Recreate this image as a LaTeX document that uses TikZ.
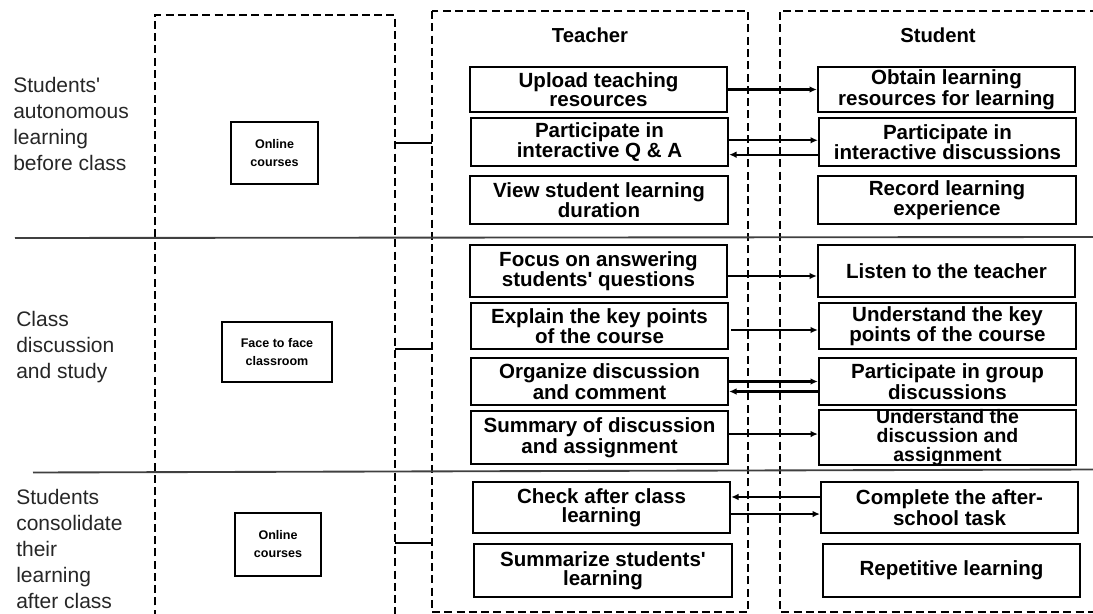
\documentclass[tikz,border=0pt]{standalone}
\usepackage{fontspec}
\setmainfont{Liberation Sans}
\usetikzlibrary{arrows.meta}
\begin{document}
\begin{tikzpicture}[x=0.75pt,y=-0.75pt,
	frame/.style={line width=2.2pt,dash pattern=on 6pt off 3.2pt},
	sep/.style={draw=black!75,line width=1.4pt},
	brk/.style={line width=2.2pt},
	stage/.style={anchor=north west,inner sep=0pt,align=left,text=black!85,font=\fontsize{15.75}{19.5}\selectfont},
	head/.style={inner sep=0pt,font=\bfseries\fontsize{15.2}{18}\selectfont},
	act/.style={draw,line width=1.5pt,minimum width=193pt,inner sep=0pt,align=center,font=\bfseries\fontsize{15.4}{14.25}\selectfont},
	mode/.style={draw,line width=1.5pt,inner sep=0pt,align=center,font=\bfseries\fontsize{9.4}{13.5}\selectfont},
	arr/.style={line width=1.6pt,-{Latex[length=5.5pt,width=5pt]}}]
			\useasboundingbox (0,0) rectangle (1093,614);
			\clip (0,0) rectangle (1093,614);
			\draw[frame] (155,630) -- (155,15) -- (395,15) -- (395,630);
			\draw[frame] (432,11) rectangle (748,612);
			\draw[frame] (1110,11) -- (780,11) -- (780,612) -- (1110,612);
			\draw[sep] (15,238) -- (1093,237);
			\draw[sep] (33,472.5) -- (1093,469.5);
			\draw[brk] (395,143) -- (432,143);
			\draw[brk] (395,349) -- (432,349);
			\draw[brk] (395,543) -- (432,543);
			\node[stage] (before) at (13,77) {Students\textquotesingle\\autonomous\\learning\\before class};
			\node[stage] (class) at (16,311.5) {Class\\discussion\\and study};
			\node[stage] (after) at (16,489) {Students\\consolidate\\their\\learning\\after class};
			\node[mode,minimum width=65.25pt,minimum height=46.5pt] (online1) at (274.5,153) {Online\\courses};
			\node[mode,minimum width=82.5pt,minimum height=45pt] (face) at (277,352) {Face to face\\classroom};
			\node[mode,minimum width=64.5pt,minimum height=47.25pt] (online2) at (278,544.5) {Online\\courses};
			\node[head] (teacher) at (590,35) {Teacher};
			\node[head] (student) at (938,35) {Student};
			\node[act,minimum height=33.75pt] (t1) at (598.5,89.5) {Upload teaching\\resources};
			\node[act,minimum height=36pt] (t2) at (599.5,142) {Participate in\\interactive Q \& A};
			\node[act,minimum height=36pt] (t3) at (599,200) {View student learning\\duration};
			\node[act,minimum height=39pt] (t4) at (598.5,271) {Focus on answering\\students\textquotesingle{} questions};
			\node[act,minimum height=34.5pt] (t5) at (599.5,326) {Explain the key points\\of the course};
			\node[act,minimum height=35.25pt] (t6) at (599.5,381.5) {Organize discussion\\and comment};
			\node[act,minimum height=39.75pt] (t7) at (599.5,437.5) {Summary of discussion\\and assignment};
			\node[act,minimum height=38.25pt] (t8) at (601.5,507.5) {Check after class\\learning};
			\node[act,minimum height=39.75pt] (t9) at (603,570.5) {Summarize students\textquotesingle\\learning};
			\node[act,minimum height=33.75pt] (s1) at (946.5,89.5) {Obtain learning\\resources for learning};
			\node[act,minimum height=36pt] (s2) at (947.5,142) {Participate in\\interactive discussions};
			\node[act,minimum height=36pt] (s3) at (947,200) {Record learning\\experience};
			\node[act,minimum height=39pt] (s4) at (946.5,271) {Listen to the teacher};
			\node[act,minimum height=34.5pt] (s5) at (947.5,326) {Understand the key\\points of the course};
			\node[act,minimum height=35.25pt] (s6) at (947.5,381.5) {Participate in group\\discussions};
			\node[act,minimum height=39.75pt,font=\bfseries\fontsize{14.6}{14}\selectfont] (s7) at (947.5,437.5) {Understand the\\discussion and\\assignment};
			\node[act,minimum height=38.25pt] (s8) at (949.5,507.5) {Complete the after-\\school task};
			\node[act,minimum height=39.75pt] (s9) at (951.5,570.5) {Repetitive learning};
			\draw[arr] (t1.east) -- (s1.west);
			\draw[arr] ([yshift=1.3pt]t2.east) -- ([yshift=1.3pt]s2.west);
			\draw[arr] ([yshift=-9.5pt]s2.west) -- ([yshift=-9.5pt]t2.east);
			\draw[arr] ([yshift=-3.75pt]t4.east) -- ([yshift=-3.75pt]s4.west);
			\draw[arr] ([xshift=1.5pt,yshift=-3pt]t5.east) -- ([yshift=-3pt]s5.west);
			\draw[arr] (t6.east) -- (s6.west);
			\draw[arr] ([yshift=-7.5pt]s6.west) -- ([yshift=-7.5pt]t6.east);
			\draw[arr] ([yshift=2.6pt]t7.east) -- ([yshift=2.6pt]s7.west);
			\draw[arr] ([yshift=7.9pt]s8.west) -- ([yshift=7.9pt]t8.east);
			\draw[arr] ([yshift=-4.9pt]t8.east) -- ([yshift=-4.9pt]s8.west);
		\end{tikzpicture}
\end{document}
